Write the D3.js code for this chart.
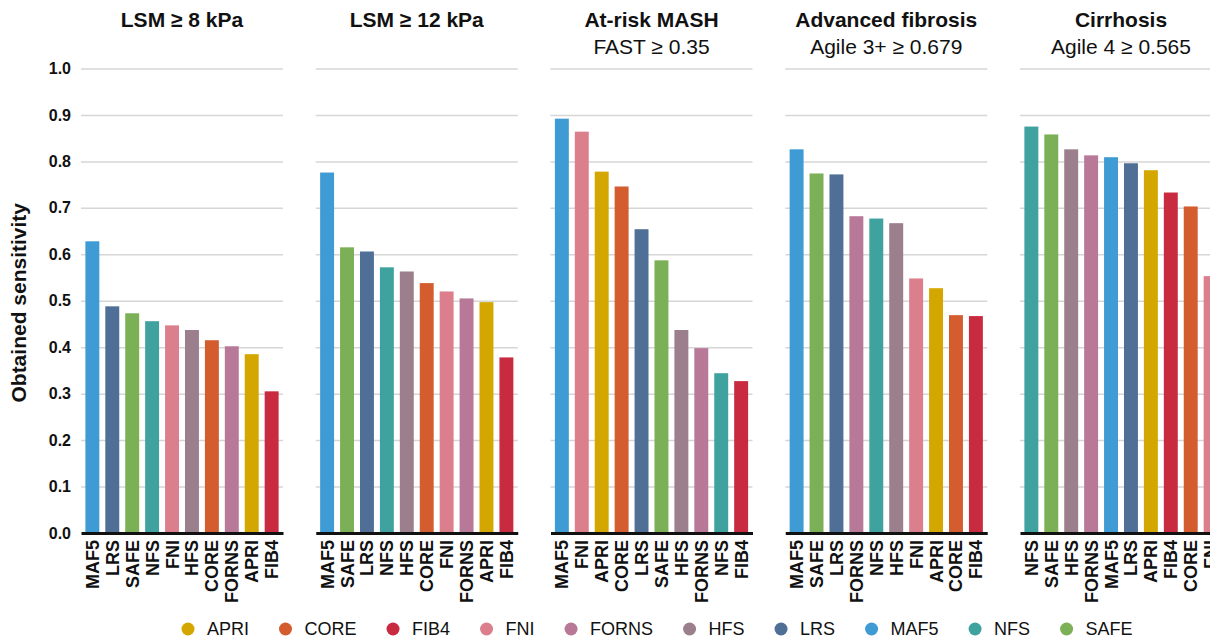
<!DOCTYPE html>
<html>
<head>
<meta charset="utf-8">
<script src="https://cdn.jsdelivr.net/npm/d3@7"></script>
<style>
  html, body { margin: 0; padding: 0; background: #fff; overflow: hidden; }
  svg { display: block; font-family: "Liberation Sans", Arial, Helvetica, sans-serif; }
</style>
</head>
<body>
<svg id="chart" width="1210" height="640"></svg>
<script>
// Scores and their colours
const methods = ["APRI", "CORE", "FIB4", "FNI", "FORNS", "HFS", "LRS", "MAF5", "NFS", "SAFE"];
const methodColors = ["#d4a700", "#d35d2e", "#c82b40", "#db7f8d", "#b87898", "#9b7f8c", "#4f6f97", "#3e9bd4", "#40a29f", "#7bb056"];

// Panel headings
const panelTitles = ["LSM \u2265 8 kPa", "LSM \u2265 12 kPa", "At-risk MASH", "Advanced fibrosis", "Cirrhosis"];
const panelSubtitles = ["", "", "FAST \u2265 0.35", "Agile 3+ \u2265 0.679", "Agile 4 \u2265 0.565"];

// Sensitivity per score, sorted within each outcome
const lsm8Labels = ["MAF5", "LRS", "SAFE", "NFS", "FNI", "HFS", "CORE", "FORNS", "APRI", "FIB4"];
const lsm8Values = [0.628, 0.488, 0.473, 0.456, 0.447, 0.437, 0.415, 0.402, 0.385, 0.305];

const lsm12Labels = ["MAF5", "SAFE", "LRS", "NFS", "HFS", "CORE", "FNI", "FORNS", "APRI", "FIB4"];
const lsm12Values = [0.776, 0.615, 0.606, 0.572, 0.563, 0.538, 0.520, 0.505, 0.497, 0.378];

const mashLabels = ["MAF5", "FNI", "APRI", "CORE", "LRS", "SAFE", "HFS", "FORNS", "NFS", "FIB4"];
const mashValues = [0.892, 0.864, 0.778, 0.746, 0.654, 0.587, 0.437, 0.398, 0.344, 0.327];

const fibrosisLabels = ["MAF5", "SAFE", "LRS", "FORNS", "NFS", "HFS", "FNI", "APRI", "CORE", "FIB4"];
const fibrosisValues = [0.826, 0.774, 0.772, 0.682, 0.677, 0.667, 0.548, 0.527, 0.469, 0.467];

const cirrhosisLabels = ["NFS", "SAFE", "HFS", "FORNS", "MAF5", "LRS", "APRI", "FIB4", "CORE", "FNI"];
const cirrhosisValues = [0.875, 0.858, 0.826, 0.813, 0.809, 0.796, 0.781, 0.733, 0.703, 0.553];

const yTicks = [0.0, 0.1, 0.2, 0.3, 0.4, 0.5, 0.6, 0.7, 0.8, 0.9, 1.0];

const panelLabels = [lsm8Labels, lsm12Labels, mashLabels, fibrosisLabels, cirrhosisLabels];
const panelValues = [lsm8Values, lsm12Values, mashValues, fibrosisValues, cirrhosisValues];

// Layout
const svg = d3.select("#chart");
const firstLeft = 81, panelWidth = 202, panelStep = 234.75;
const plotTop = 68.5, plotBottom = 533;

const color = d3.scaleOrdinal().domain(methods).range(methodColors);
const y = d3.scaleLinear().domain([0, 1]).range([plotBottom, plotTop]);

// Y axis title
svg.append("text")
  .attr("transform", `translate(26, ${(plotTop + plotBottom) / 2 + 2}) rotate(-90)`)
  .attr("text-anchor", "middle")
  .style("font-size", "21px")
  .style("font-weight", "bold")
  .attr("fill", "#111")
  .text("Obtained sensitivity");

panelTitles.forEach((title, i) => {
  const x0 = firstLeft + i * panelStep;
  const labels = panelLabels[i];
  const values = panelValues[i];
  const rows = labels.map((m, k) => ({ method: m, value: values[k] }));

  const x = d3.scaleBand()
    .domain(labels)
    .range([0, panelWidth])
    .paddingInner(0.3)
    .paddingOuter(0.22);

  const g = svg.append("g").attr("transform", `translate(${x0},0)`);

  // Gridlines
  g.append("g")
    .call(d3.axisLeft(y).tickValues(yTicks.filter(t => t > 0)).tickSize(-panelWidth).tickFormat(""))
    .call(a => a.select(".domain").remove())
    .call(a => a.selectAll("line").attr("stroke", "#d6d6d6").attr("stroke-width", 1.5));

  // Y tick labels on the first panel only
  if (i === 0) {
    g.append("g")
      .call(d3.axisLeft(y).tickValues(yTicks).tickSize(0).tickPadding(10).tickFormat(d3.format(".1f")))
      .call(a => a.select(".domain").remove())
      .call(a => a.selectAll("text")
        .style("font-size", "16px")
        .style("font-weight", "bold")
        .style("font-family", "'Liberation Sans', Arial, sans-serif")
        .attr("fill", "#111"));
  }

  // Bars
  g.selectAll("rect.bar")
    .data(rows)
    .join("rect")
    .attr("class", "bar")
    .attr("x", d => x(d.method))
    .attr("width", x.bandwidth())
    .attr("y", d => y(d.value))
    .attr("height", d => y(0) - y(d.value))
    .attr("fill", d => color(d.method));

  // Baseline and category labels
  g.append("g")
    .attr("transform", `translate(0,${plotBottom})`)
    .call(d3.axisBottom(x).tickSize(0).tickPadding(0))
    .call(a => a.select(".domain").attr("stroke", "#111").attr("stroke-width", 3))
    .call(a => a.selectAll("text")
      .attr("transform", "rotate(-90)")
      .attr("text-anchor", "end")
      .attr("dy", "0.36em")
      .attr("x", -7)
      .attr("y", 0)
      .style("font-size", "18px")
      .style("font-weight", "bold")
      .style("font-family", "'Liberation Sans', Arial, sans-serif")
      .attr("fill", "#111"));

  // Titles
  g.append("text")
    .attr("x", panelWidth / 2)
    .attr("y", 27)
    .attr("text-anchor", "middle")
    .style("font-size", "21px")
    .style("font-weight", "bold")
    .attr("fill", "#111")
    .text(title);

  if (panelSubtitles[i]) {
    g.append("text")
      .attr("x", panelWidth / 2)
      .attr("y", 54)
      .attr("text-anchor", "middle")
      .style("font-size", "21px")
      .attr("fill", "#111")
      .text(panelSubtitles[i]);
  }
});

// Legend, one swatch and name per score, laid out left to right
const legend = svg.append("g").attr("transform", "translate(188, 629)");
let cursor = 0;
methods.forEach(m => {
  const item = legend.append("g").attr("transform", `translate(${cursor},0)`);
  item.append("circle").attr("cx", 0).attr("cy", 0).attr("r", 6.5).attr("fill", color(m));
  const t = item.append("text")
    .attr("x", 19)
    .attr("y", 0)
    .attr("dy", "0.35em")
    .style("font-size", "18px")
    .attr("fill", "#111")
    .text(m);
  cursor += 19 + t.node().getComputedTextLength() + 36.5;
});
</script>
</body>
</html>
